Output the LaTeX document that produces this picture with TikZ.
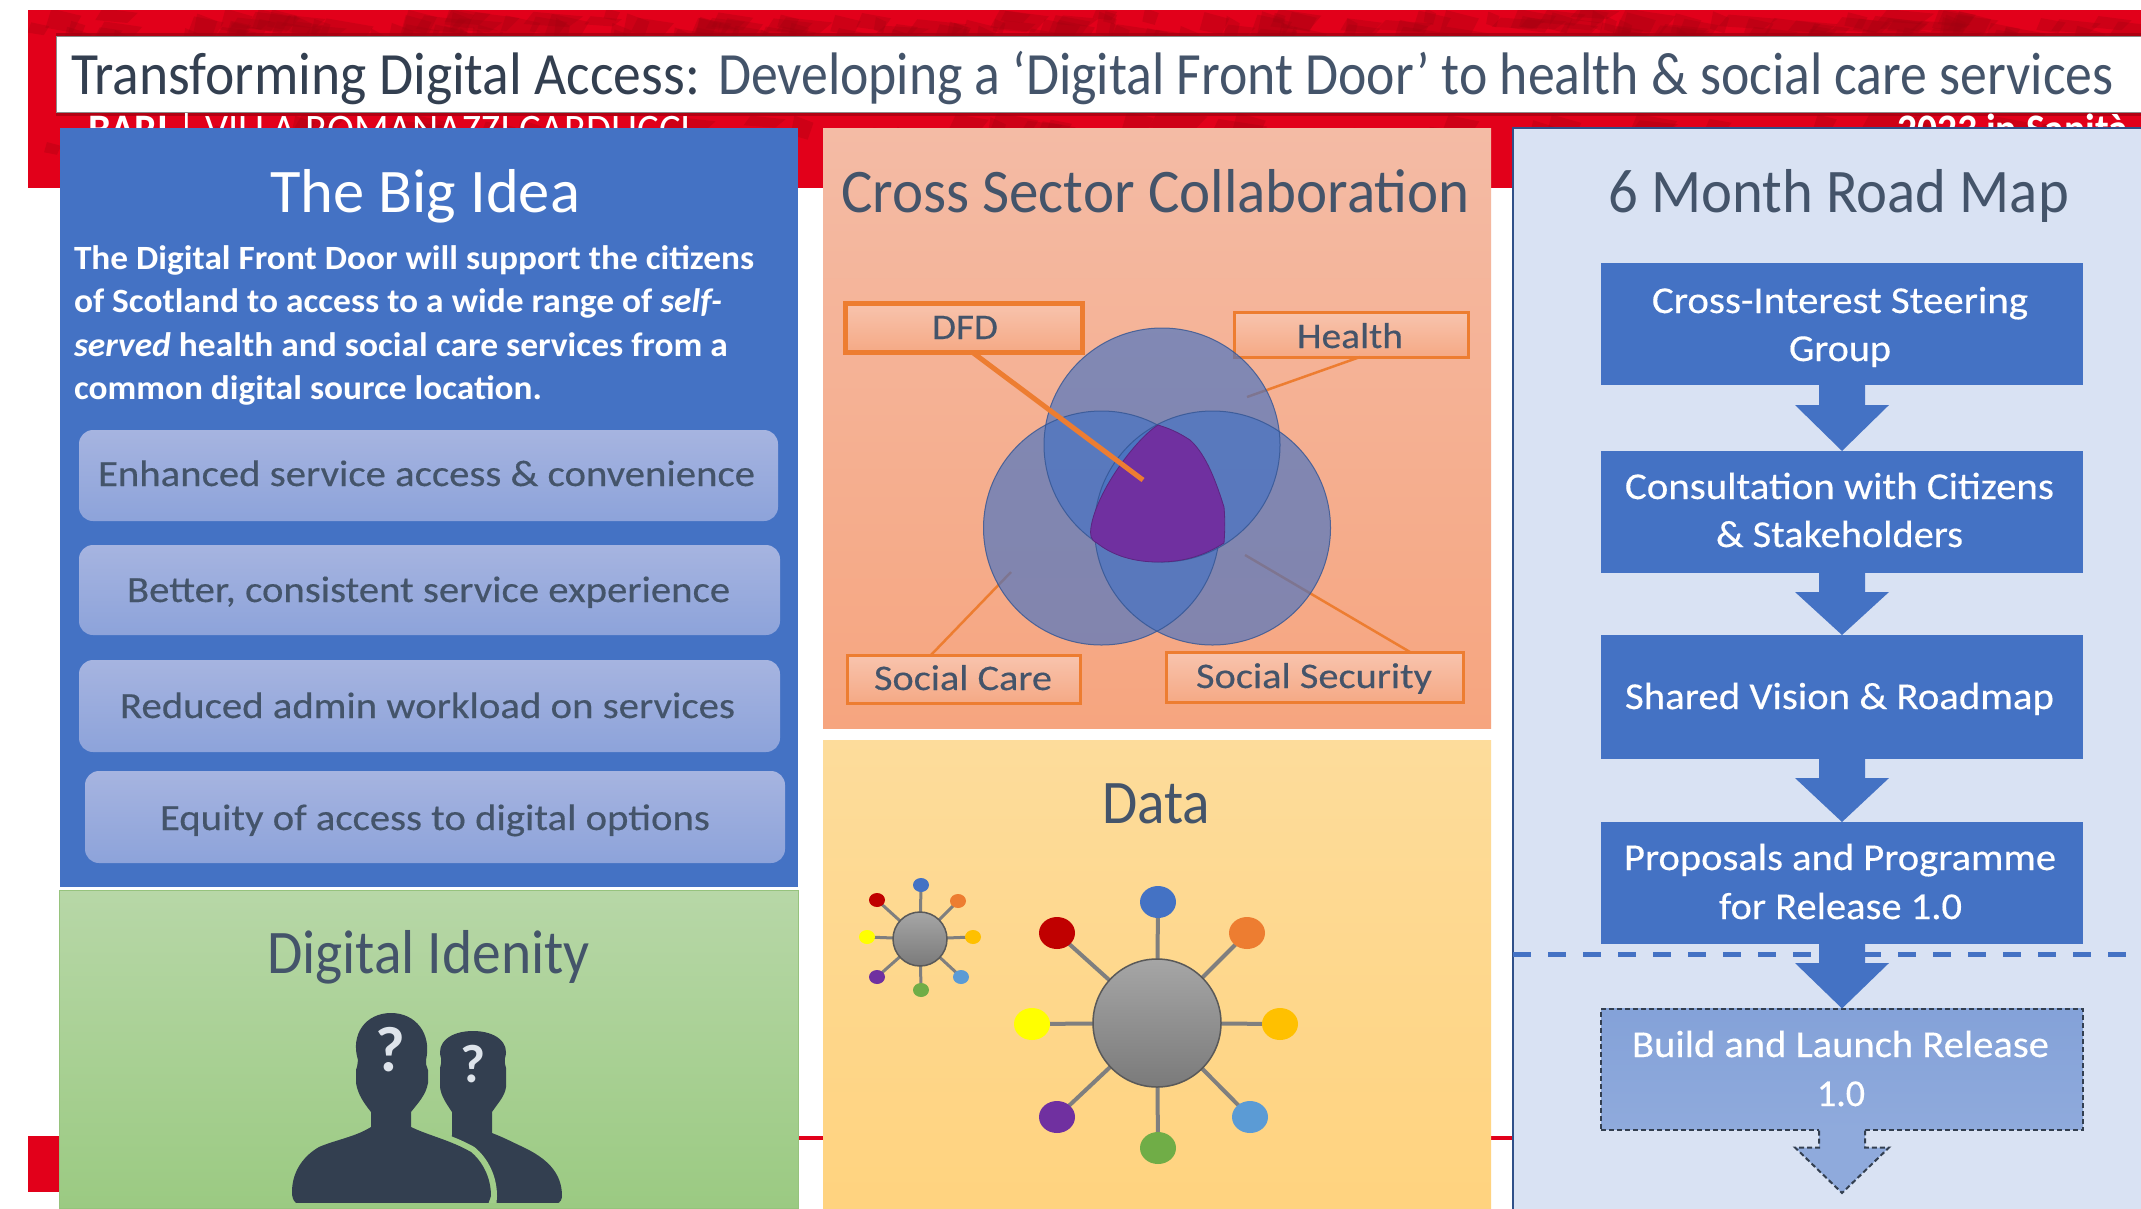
\documentclass[tikz,border=0pt]{standalone}
\usepackage{fontspec}
\usepackage{graphicx}
\setmainfont{Carlito}
\newfontfamily\medfont[FakeBold=0.35]{Carlito}
\usetikzlibrary{calc}
\definecolor{redband}{HTML}{E2001A}
\definecolor{reddark}{HTML}{A00010}
\definecolor{inkdark}{HTML}{333F50}
\definecolor{inkmid}{HTML}{44546A}
\definecolor{boxblue}{HTML}{4472C4}
\definecolor{boxlight}{HTML}{8FAADC}
\definecolor{roadbg}{HTML}{D9E2F3}
\definecolor{orangeline}{HTML}{ED7D31}
\definecolor{spoke}{HTML}{7F7F7F}
\definecolor{greengap}{HTML}{A1CD89}
\definecolor{triple}{HTML}{7030A0}
\definecolor{greentop}{HTML}{B7D7A7}
\definecolor{greenbot}{HTML}{9BCA82}
\definecolor{greenedge}{HTML}{96C37D}
\definecolor{peachtop}{HTML}{F4BBA5}
\definecolor{peachbot}{HTML}{F6A57F}
\definecolor{yellowtop}{HTML}{FDDC9B}
\definecolor{yellowbot}{HTML}{FFD37F}
\definecolor{qmark}{HTML}{DEE4EB}
\definecolor{pilltop}{HTML}{A6B4E0}
\definecolor{pillbot}{HTML}{8DA3DA}
\definecolor{tagtop}{HTML}{F8C4AE}
\definecolor{tagbot}{HTML}{F5A985}
\newcommand\tw[2]{\resizebox{#1pt}{\height}{#2}}
\newcommand\fz[1]{\fontsize{#1}{#1}\selectfont}
\tikzset{
  panel/.style={rectangle,inner sep=0,outer sep=0},
  lbl/.style={inner sep=0,outer sep=0,anchor=base west},
  title/.style={lbl,text=inkmid,font=\fz{62}},
  pill/.style={panel,rounded corners=14pt,top color=pilltop,bottom color=pillbot},
  pilltext/.style={lbl,text=inkmid,font=\medfont\fz{37}},
  roadbox/.style={panel,fill=boxblue,minimum width=482pt},
  roadtext/.style={lbl,text=white,font=\medfont\fz{38}},
  tag/.style={panel,draw=orangeline,line width=3pt,top color=tagtop,bottom color=tagbot},
  tagtext/.style={lbl,text=inkmid,font=\medfont\fz{36}},
  hub/.style={circle,inner sep=0,outer sep=0,draw=black!65,line width=1.5pt,top color=black!35,bottom color=black!52},
  spk/.style={draw=spoke,line width=4pt},
  spks/.style={draw=spoke,line width=3pt},
  circ/.style={x radius=118,y radius=117},
}
\newcommand\blockarrow[3]{%
  \fill[boxblue] ($(#1.south)+(-23,-1)$) -- ($(#1.south)+(-23,#3)$) -- ($(#1.south)+(-47,#3)$)
    -- (#2.north) -- ($(#1.south)+(47,#3)$) -- ($(#1.south)+(23,#3)$) -- ($(#1.south)+(23,-1)$) -- cycle;}
\begin{document}
\begin{tikzpicture}[x=1pt,y=-1pt]
\useasboundingbox (0,0) rectangle (2141,1208);
\fill[white] (0,0) rectangle (2141,1208);
% red header band with its mottled texture
\fill[redband] (28,10) rectangle (2141,188);
\begin{scope}
  \clip (28,10) rectangle (2141,188);
  \pgfmathsetseed{4217}
  \foreach \i in {1,...,300}{
    \pgfmathsetmacro\px{28+rnd*2113}
    \pgfmathsetmacro\py{rnd<0.62 ? 8+rnd*22 : 108+rnd*60}
    \pgfmathsetmacro\pw{10+rnd*40}
    \pgfmathsetmacro\ph{10+rnd*18}
    \fill[reddark,opacity=.3] (\px,\py) -- ({\px+\pw},{\py+\ph*.3}) -- ({\px+\pw*.7},{\py+\ph}) -- ({\px-\pw*.2},{\py+\ph*.8}) -- cycle;
  }
\end{scope}
\fill[reddark,opacity=.7] (56,33) rectangle (2141,36);
\fill[reddark,opacity=.7] (56,112) rectangle (2141,116);
\node[lbl,text=white,font=\fz{42}] (venue) at (88,143) {\tw{603}{\textbf{BARI} | VILLA ROMANAZZI CARDUCCI}};
\node[lbl,text=white,font=\bfseries\fz{42}] (edition) at (1897,143) {\tw{231}{2023 in Sanità}};
% red remains at the bottom
\fill[redband] (28,1136) rectangle (60,1192);
\fill[redband] (798,1136) rectangle (824,1140);
\fill[redband] (1490,1136) rectangle (1514,1140);
% title
\node[panel,fill=white,draw=black!45,line width=.8pt,minimum width=2087pt,minimum height=76pt,anchor=north west] (titlebar) at (56,36) {};
\node[lbl,text=inkdark,font=\fz{60}] (t1) at (71,94) {\tw{629}{Transforming Digital Access:}};
\node[lbl,text=inkmid,font=\fz{60}] (t2) at (718,94) {\tw{1396}{Developing a ‘Digital Front Door’ to health \& social care services}};
% panels
\node[panel,fill=boxblue,minimum width=738pt,minimum height=759pt,anchor=north west] (idea) at (60,128) {};
\node[panel,draw=greenedge,line width=1pt,top color=greentop,bottom color=greenbot,minimum width=739pt,minimum height=318pt,anchor=north west] (ident) at (59.5,890) {};
\node[panel,minimum width=668pt,minimum height=600pt,anchor=north west,top color=peachtop,bottom color=peachbot] (cross) at (823,128) {};
\node[panel,minimum width=668pt,minimum height=468pt,anchor=north west,top color=yellowtop,bottom color=yellowbot] (data) at (823,740) {};
\node[panel,fill=roadbg,draw=boxblue!70!black,line width=1.2pt,minimum width=630pt,minimum height=1082pt,anchor=north west] (road) at (1513,128) {};
% big idea
\node[lbl,text=white,font=\fz{62}] (ideat) at (270,212) {\tw{310}{The Big Idea}};
\node[lbl,text=white,font=\bfseries\fz{34}] (p1) at (74,269) {\tw{680}{The Digital Front Door will support the citizens}};
\node[lbl,text=white,font=\bfseries\fz{34}] (p2) at (74,312) {\tw{648}{of Scotland to access to a wide range of \textit{self-}}};
\node[lbl,text=white,font=\bfseries\fz{34}] (p3) at (74,356) {\tw{654}{\textit{served} health and social care services from a}};
\node[lbl,text=white,font=\bfseries\fz{34}] (p4) at (74,399) {\tw{468}{common digital source location.}};
\node[pill,minimum width=699pt,minimum height=91pt,anchor=north west] (i1) at (79,430) {};
\node[pill,minimum width=701pt,minimum height=90pt,anchor=north west] (i2) at (79,545) {};
\node[pill,minimum width=701pt,minimum height=92pt,anchor=north west] (i3) at (79,660) {};
\node[pill,minimum width=700pt,minimum height=92pt,anchor=north west] (i4) at (85,771) {};
\node[pilltext] (i1t) at (98,486) {\tw{657}{Enhanced service access \& convenience}};
\node[pilltext] (i2t) at (127,602) {\tw{603}{Better, consistent service experience}};
\node[pilltext] (i3t) at (120,718) {\tw{615}{Reduced admin workload on services}};
\node[pilltext] (i4t) at (160,830) {\tw{550}{Equity of access to digital options}};
% digital identity
\node[title,text=inkmid] (identt) at (267,973) {\tw{323}{Digital Idenity}};
\begin{scope}
  \clip (280,1000) rectangle (575,1202);
  \fill[inkdark] (440,1210) -- (452,1135) -- (452,1112)
    .. controls (446,1103) and (441,1096) .. (440,1087) -- (440,1068)
    .. controls (442,1060) and (441,1062) .. (441,1058)
    .. controls (436,1043) and (450,1031) .. (473,1031) .. controls (496,1031) and (510,1043) .. (505,1058)
    .. controls (505,1062) and (504,1060) .. (506,1068)
    -- (506,1087) .. controls (505,1096) and (498,1103) .. (492,1112) -- (492,1133)
    .. controls (505,1138) and (512,1142) .. (523,1147) .. controls (546,1158) and (562,1172) .. (562,1196)
    .. controls (562,1200) and (560,1202) .. (557,1204) -- (557,1210) -- cycle;
  \draw[greengap,line width=12pt] (430,1134)
    .. controls (440,1139) and (455,1143) .. (471,1152) .. controls (483,1162) and (491,1178) .. (491,1196)
    -- (490,1210);
  \fill[inkdark] (300,1210) -- (296,1203) .. controls (293,1200) and (292,1197) .. (292,1192)
    .. controls (292,1170) and (305,1155) .. (319,1147) .. controls (335,1140) and (355,1137) .. (371,1127) -- (371,1112)
    .. controls (364,1103) and (358,1095) .. (356,1083) -- (356,1070)
    .. controls (358,1064) and (357,1066) .. (358,1060)
    .. controls (350,1034) and (366,1013) .. (391,1013) .. controls (416,1013) and (432,1034) .. (426,1060)
    .. controls (426,1066) and (426,1064) .. (428,1070)
    -- (428,1083) .. controls (426,1095) and (418,1103) .. (411,1112) -- (411,1127)
    .. controls (430,1136) and (450,1140) .. (471,1152) .. controls (483,1162) and (491,1178) .. (491,1196)
    -- (486,1210) -- cycle;
\end{scope}
\node[inner sep=0,text=qmark,font=\bfseries\fz{64}] (q1) at (390,1050) {?};
\node[inner sep=0,text=qmark,font=\bfseries\fz{54}] (q2) at (473,1064) {?};
% cross sector
\node[title] (crosst) at (841,212) {\tw{629}{Cross Sector Collaboration}};
\coordinate (healthend) at (1247,397);
\coordinate (careend) at (1011,572);
\coordinate (secend) at (1245,555);
\coordinate (dfdend) at (1143,480);
\node[tag,minimum width=234pt,minimum height=45pt,anchor=north west] (health) at (1234,312) {};
\node[tag,minimum width=233pt,minimum height=48pt,anchor=north west] (care) at (847,655) {};
\node[tag,minimum width=297pt,minimum height=50pt,anchor=north west] (sec) at (1166,652) {};
\node[tag,line width=5pt,minimum width=237pt,minimum height=49pt,anchor=north west] (dfd) at (845,303) {};
\draw[orangeline,line width=2.5pt] (1360,357) -- (healthend);
\draw[orangeline,line width=2.5pt] (931,655) -- (careend);
\draw[orangeline,line width=2.5pt] (1410,652) -- (secend);
\fill[boxblue,opacity=.65] (1162,445) ellipse [circ];
\fill[boxblue,opacity=.65] (1101.5,528) ellipse [circ];
\fill[boxblue,opacity=.65] (1212.5,528) ellipse [circ];
\draw[boxblue!75!black,line width=1pt,opacity=.8] (1162,445) ellipse [circ];
\draw[boxblue!75!black,line width=1pt,opacity=.8] (1101.5,528) ellipse [circ];
\draw[boxblue!75!black,line width=1pt,opacity=.8] (1212.5,528) ellipse [circ];
\fill[triple,draw=triple!80!black,line width=.8pt] (1158,425)
  .. controls (1137,438) and (1097,490) .. (1091,527)
  .. controls (1090,534) and (1090,540) .. (1097,543)
  .. controls (1108,552) and (1128,562) .. (1158,562)
  .. controls (1185,562) and (1205,555) .. (1224,543)
  .. controls (1225,530) and (1225,518) .. (1224,507)
  .. controls (1217,485) and (1207,455) .. (1190,440)
  .. controls (1178,432) and (1168,428) .. (1158,425) -- cycle;
\draw[orangeline,line width=5pt] (972,352) -- (dfdend);
\node[tagtext] (dfdt) at (932,339) {\tw{66}{DFD}};
\node[tagtext] (healtht) at (1297,348) {\tw{106}{Health}};
\node[tagtext] (caret) at (874,690) {\tw{178}{Social Care}};
\node[tagtext] (sect) at (1196,688) {\tw{236}{Social Security}};
% data
\node[title] (datat) at (1102,823) {\tw{108}{Data}};
\coordinate (H) at (1157,1023);
\coordinate (S) at (920,939);
\foreach \n/\x/\y/\c in {a/1158/902/4472C4,b/1057/933/C00000,c/1247/933/ED7D31,d/1032/1024/FFFF00,e/1280/1024/FFC000,f/1057/1117/7030A0,g/1158/1148/70AD47,h/1250/1117/5B9BD5}{
  \definecolor{dot}{HTML}{\c}
  \draw[spk] (H) -- (\x,\y);
  \fill[dot] (\x,\y) ellipse [x radius=18,y radius=16];
}
\foreach \n/\x/\y/\c in {a/921/885/4472C4,b/877/900/C00000,c/958/901/ED7D31,d/867/937/FFFF00,e/973/937/FFC000,f/877/977/7030A0,g/921/990/70AD47,h/961/977/5B9BD5}{
  \definecolor{dot}{HTML}{\c}
  \draw[spks] (S) -- (\x,\y);
  \fill[dot] (\x,\y) ellipse [x radius=8,y radius=7];
}
\node[hub,minimum size=128pt] (hubbig) at (H) {};
\node[hub,minimum size=54pt] (hubsmall) at (S) {};
% road map
\node[title] (roadt) at (1608,212) {\tw{461}{6 Month Road Map}};
\coordinate (dl) at (1513,954);
\coordinate (dr) at (2141,954);
\draw[boxblue,line width=5pt,dash pattern=on 18pt off 17pt] (dl) -- (dr);
\node[roadbox,minimum height=122pt] (b1) at (1842,324) {};
\node[roadbox,minimum height=122pt] (b2) at (1842,512) {};
\node[roadbox,minimum height=124pt] (b3) at (1842,697) {};
\node[roadbox,minimum height=122pt] (b4) at (1842,883) {};
\node[panel,minimum width=482pt,minimum height=121pt,top color=boxlight!85!boxblue,bottom color=boxlight,draw=inkdark,line width=2pt,dash pattern=on 5pt off 3pt] (b5) at (1842,1069) {};
\coordinate (next) at (1842,1193);
\blockarrow{b1}{b2}{20}
\blockarrow{b2}{b3}{19}
\blockarrow{b3}{b4}{19}
\blockarrow{b4}{b5}{19}
\fill[boxlight] ($(b5.south)+(-23,-1)$) -- ($(b5.south)+(-23,18)$) -- ($(b5.south)+(-47,18)$) -- (next) -- ($(b5.south)+(47,18)$) -- ($(b5.south)+(23,18)$) -- ($(b5.south)+(23,-1)$) -- cycle;
\draw[inkdark,line width=2pt,dash pattern=on 5pt off 3pt] ($(b5.south)+(-23,1)$) -- ($(b5.south)+(-23,18)$) -- ($(b5.south)+(-47,18)$) -- (next) -- ($(b5.south)+(47,18)$) -- ($(b5.south)+(23,18)$) -- ($(b5.south)+(23,1)$);
\node[roadtext] (b1a) at (1652,313) {\tw{376}{Cross-Interest Steering}};
\node[roadtext] (b1b) at (1789,361) {\tw{102}{Group}};
\node[roadtext] (b2a) at (1625,499) {\tw{429}{Consultation with Citizens}};
\node[roadtext] (b2b) at (1716,547) {\tw{247}{\& Stakeholders}};
\node[roadtext] (b3a) at (1625,709) {\tw{429}{Shared Vision \& Roadmap}};
\node[roadtext] (b4a) at (1624,870) {\tw{432}{Proposals and Programme}};
\node[roadtext] (b4b) at (1719,919) {\tw{243}{for Release 1.0}};
\node[roadtext] (b5a) at (1632,1057) {\tw{417}{Build and Launch Release}};
\node[roadtext] (b5b) at (1817,1106) {\tw{48}{1.0}};
\end{tikzpicture}
\end{document}
